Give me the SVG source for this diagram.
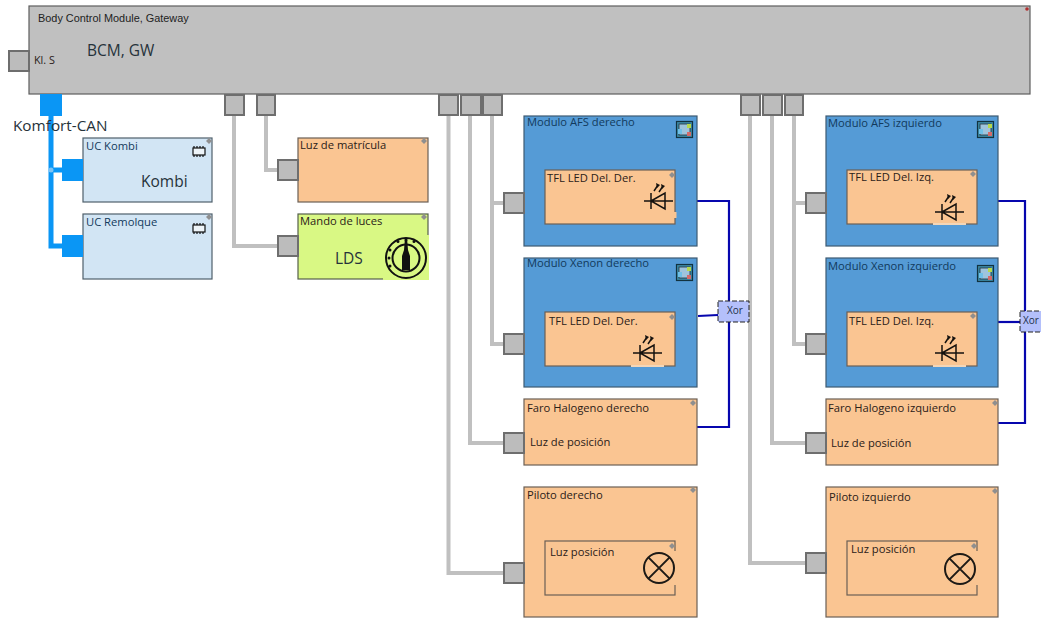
<svg xmlns="http://www.w3.org/2000/svg" width="1041" height="618" viewBox="0 0 1041 618">
<style>
text{font-family:"Open Sans","Liberation Sans",sans-serif;font-size:11.2px;fill:#2a2018}
.a{font-family:"Liberation Sans",Arial,sans-serif;font-size:10.9px;fill:#222}
.big{font-size:15.500px;fill:#26323a}
.t{fill:#123a5c;font-size:11.200px}
.x{font-size:10px;fill:#22304a}
.gw{fill:#c0c0c0;stroke:#5e5e5e;stroke-width:1.2}
.port{fill:#bcbcbc;stroke:#6e6e6e;stroke-width:2}
.bport{fill:#0a96f5}
.peach{fill:#fac592;stroke:#6b5f55;stroke-width:1.2}
.patch{fill:#fac592}
.blue{fill:#559bd6;stroke:#3d5a72;stroke-width:1.2}
.lb{fill:#d2e5f4;stroke:#4f5f6b;stroke-width:1.2}
.lime{fill:#d9f884;stroke:#55604a;stroke-width:1.2}
.xor{fill:#b4c0fb;stroke:#222;stroke-width:1;stroke-dasharray:5 2}
.g{fill:none;stroke:#c0c0c0;stroke-width:4}
.w{fill:none;stroke:#0606ae;stroke-width:2.2}
.bus{fill:none;stroke:#0a96f5;stroke-width:5}
.ink{fill:none;stroke:#14110e;stroke-width:1.5}
.m{fill:#8f8f8f}
</style>
<defs>
<symbol id="mark" overflow="visible"><path class="m" d="M-3 0 0-3 3 0 0 3z"/></symbol>
<symbol id="chip" overflow="visible"><rect x="1" y="2" width="12" height="7" fill="#eef4f8" stroke="#111" stroke-width="1.200"/><path d="M2 0v2M5 0v2M8 0v2M11 0v2M2 9v2M5 9v2M8 9v2M11 9v2" stroke="#111" stroke-width="1.200"/></symbol>
<symbol id="mod" overflow="visible"><rect x="0.5" y="0.5" width="16" height="16" fill="#3d8aa6" stroke="#12323f" stroke-width="1.2"/><rect x="3" y="3" width="11" height="11" fill="#9fc4dc" stroke="#20303a" stroke-width="0.8"/><rect x="2" y="8" width="4" height="5" fill="#6fc0e8"/><rect x="11" y="3" width="4" height="4" fill="#b6d94c"/><rect x="11" y="11" width="4" height="4" fill="#d46a6a"/></symbol>
<symbol id="led" overflow="visible"><path class="ink" d="M-7 0H22M0-8V8M0 0 14-8V8Z"/><path class="ink" d="M3-10 7-16M8-9 12-15"/><path d="M5-18 9-16 6-13ZM10-17 14-15 11-12Z" fill="#14110e"/></symbol>
<symbol id="lamp" overflow="visible"><circle r="15" fill="#fac592" stroke="#1d1a16" stroke-width="2"/><path d="M-10.6-10.6 10.6 10.6M10.6-10.6-10.6 10.6" stroke="#1d1a16" stroke-width="2"/></symbol>
</defs>

<g id="connectors">
<path class="bus" d="M51 116V246H62"/>
<path d="M51 170H62" stroke="#0a96f5" stroke-width="5" fill="none"/>
<circle cx="51" cy="170" r="2.5" fill="#7cc4f5"/>
<path class="g" d="M234 115V246H277"/>
<path class="g" d="M266 115V170H277"/>
<path class="g" d="M448.500 115V573H503"/>
<path class="g" d="M470 115V443H503"/>
<path class="g" d="M492 115V344H503"/>
<path class="g" d="M490 203H503"/>
<path class="g" d="M750 115V563H805"/>
<path class="g" d="M772 115V443H805"/>
<path class="g" d="M794 115V344H805"/>
<path class="g" d="M792 203H805"/>
<path class="w" d="M697 201H729V427H697"/>
<path class="w" d="M698 316 718 315"/>
<path class="w" d="M998 201H1025V423H998"/>
<path class="w" d="M998 322H1020"/>
</g>

<g id="bcm">
<rect class="gw" x="29" y="6" width="1001" height="88"/>
<text class="a" x="38" y="22">Body Control Module, Gateway</text>
<text x="87" y="56" class="big">BCM, GW</text>
<text x="34" y="64" style="font-size:10.800px">Kl. S</text>
<circle cx="1027" cy="9" r="1.800" fill="#b03030"/>
<rect class="port" x="9" y="51" width="20" height="20"/>
<rect class="bport" x="40" y="94" width="22" height="22"/>
<rect class="port" x="225" y="95" width="19" height="20"/>
<rect class="port" x="257" y="95" width="18" height="20"/>
<rect class="port" x="439" y="95" width="19" height="20"/>
<rect class="port" x="461" y="95" width="20" height="20"/>
<rect class="port" x="483" y="95" width="19" height="20"/>
<rect class="port" x="741" y="95" width="19" height="20"/>
<rect class="port" x="763" y="95" width="19" height="20"/>
<rect class="port" x="785" y="95" width="18" height="20"/>
</g>

<g id="uc-kombi">
<rect class="lb" x="83" y="138" width="129" height="64"/>
<use href="#mark" x="209" y="141"/><use href="#chip" x="192" y="146"/>
<text x="86" y="150" class="t">UC Kombi</text>
<text x="141" y="187" class="big">Kombi</text>
<rect class="bport" x="62" y="159" width="21" height="22"/>
</g>
<g id="uc-remolque">
<rect class="lb" x="83" y="214" width="129" height="65"/>
<use href="#mark" x="209" y="217"/><use href="#chip" x="192" y="223"/>
<text x="86" y="226" class="t">UC Remolque</text>
<rect class="bport" x="62" y="235" width="21" height="22"/>
</g>
<text id="komfort-can" x="13" y="131" style="font-size:15.300px;fill:#26323a">Komfort-CAN</text>

<g id="luz-matricula">
<rect class="peach" x="298" y="138" width="130" height="64"/>
<use href="#mark" x="424" y="141"/>
<text x="300" y="149">Luz de matrícula</text>
<rect class="port" x="278" y="160" width="20" height="20"/>
</g>
<g id="mando-luces">
<rect class="lime" x="298" y="214" width="130" height="65"/>
<use href="#mark" x="424" y="217"/>
<text x="300" y="225">Mando de luces</text>
<text x="335" y="264" class="big">LDS</text>
<rect x="383" y="235" width="46" height="45" fill="#d9f884"/>
<circle cx="406" cy="258" r="20" fill="none" stroke="#111" stroke-width="2"/>
<circle cx="406" cy="258" r="13.500" fill="none" stroke="#111" stroke-width="2"/>
<path d="M405 238H407L408 250 410 256V270H402V256L404 250Z" fill="#111"/>
<path d="M398 241.500h.01M406 240h.01M414 241.500h.01M390 250h.01M389 258h.01M390 266h.01" stroke="#111" stroke-width="3" stroke-linecap="round" fill="none"/>
<rect class="port" x="278" y="236" width="20" height="20"/>
</g>

<g id="modulo-afs-derecho">
<rect class="blue" x="524" y="116" width="173" height="130"/>
<use href="#mod" x="676" y="121"/>
<text x="527" y="126" class="t">Modulo AFS derecho</text>
<rect class="port" x="504" y="193" width="20" height="20"/>
<g id="tfl-afs-derecho">
<rect class="peach" x="545" y="170" width="130" height="54"/>
<rect class="patch" x="674" y="212" width="2.500" height="6"/>
<use href="#mark" x="672" y="175"/>
<text x="547" y="182">TFL LED Del. Der.</text>
<use href="#led" x="651" y="201"/>
</g>
</g>
<g id="modulo-xenon-derecho">
<rect class="blue" x="524" y="258" width="173" height="129"/>
<use href="#mod" x="676" y="264"/>
<text x="527" y="267" class="t">Modulo Xenon derecho</text>
<rect class="port" x="504" y="334" width="20" height="20"/>
<g id="tfl-xenon-derecho">
<rect class="peach" x="545" y="312" width="130" height="54"/>
<rect x="631" y="365" width="33" height="2" fill="#f4d6b8"/>
<use href="#mark" x="672" y="317"/>
<text x="549" y="325">TFL LED Del. Der.</text>
<use href="#led" x="640" y="353"/>
</g>
</g>
<g id="xor-derecho">
<rect class="xor" x="718" y="301" width="31" height="21"/>
<text x="727" y="314" class="x">Xor</text>
</g>
<g id="faro-derecho">
<rect class="peach" x="524" y="399" width="173" height="66"/>
<use href="#mark" x="693" y="403"/>
<text x="527" y="412">Faro Halogeno derecho</text>
<text x="530" y="446">Luz de posición</text>
<rect class="port" x="504" y="433" width="20" height="20"/>
</g>
<g id="piloto-derecho">
<rect class="peach" x="524" y="487" width="173" height="130"/>
<use href="#mark" x="693" y="490"/>
<text x="527" y="499">Piloto derecho</text>
<rect class="port" x="504" y="563" width="20" height="20"/>
<g id="luz-posicion-derecho">
<rect class="peach" x="545" y="541" width="130" height="54"/>
<rect class="patch" x="674" y="551" width="2.500" height="34"/>
<use href="#mark" x="672" y="546"/>
<text x="550" y="556">Luz posición</text>
<use href="#lamp" x="659" y="568"/>
</g>
</g>

<g id="modulo-afs-izquierdo">
<rect class="blue" x="826" y="116" width="172" height="130"/>
<use href="#mod" x="977" y="121"/>
<text x="828" y="127" class="t">Modulo AFS izquierdo</text>
<rect class="port" x="806" y="193" width="20" height="20"/>
<g id="tfl-afs-izquierdo">
<rect class="peach" x="847" y="170" width="130" height="54"/>
<rect x="933" y="223" width="33" height="2" fill="#f4d6b8"/>
<use href="#mark" x="973" y="174"/>
<text x="849" y="181">TFL LED Del. Izq.</text>
<use href="#led" x="942" y="212"/>
</g>
</g>
<g id="modulo-xenon-izquierdo">
<rect class="blue" x="826" y="258" width="172" height="129"/>
<use href="#mod" x="977" y="265"/>
<text x="828" y="270" class="t">Modulo Xenon izquierdo</text>
<rect class="port" x="806" y="334" width="20" height="20"/>
<g id="tfl-xenon-izquierdo">
<rect class="peach" x="847" y="312" width="130" height="54"/>
<rect x="933" y="365" width="33" height="2" fill="#f4d6b8"/>
<use href="#mark" x="973" y="316"/>
<text x="849" y="325">TFL LED Del. Izq.</text>
<use href="#led" x="942" y="353"/>
</g>
</g>
<g id="xor-izquierdo">
<rect class="xor" x="1020" y="311" width="31" height="21"/>
<text x="1023" y="324" class="x">Xor</text>
</g>
<g id="faro-izquierdo">
<rect class="peach" x="826" y="399" width="172" height="66"/>
<use href="#mark" x="995" y="403"/>
<text x="828" y="412">Faro Halogeno izquierdo</text>
<text x="831" y="447">Luz de posición</text>
<rect class="port" x="806" y="433" width="20" height="20"/>
</g>
<g id="piloto-izquierdo">
<rect class="peach" x="826" y="487" width="172" height="130"/>
<use href="#mark" x="995" y="491"/>
<text x="829" y="501">Piloto izquierdo</text>
<rect class="port" x="806" y="553" width="20" height="20"/>
<g id="luz-posicion-izquierdo">
<rect class="peach" x="847" y="541" width="130" height="54"/>
<rect class="patch" x="976" y="551" width="2.500" height="34"/>
<use href="#mark" x="974" y="546"/>
<text x="851" y="553">Luz posición</text>
<use href="#lamp" x="960" y="569"/>
</g>
</g>
</svg>
